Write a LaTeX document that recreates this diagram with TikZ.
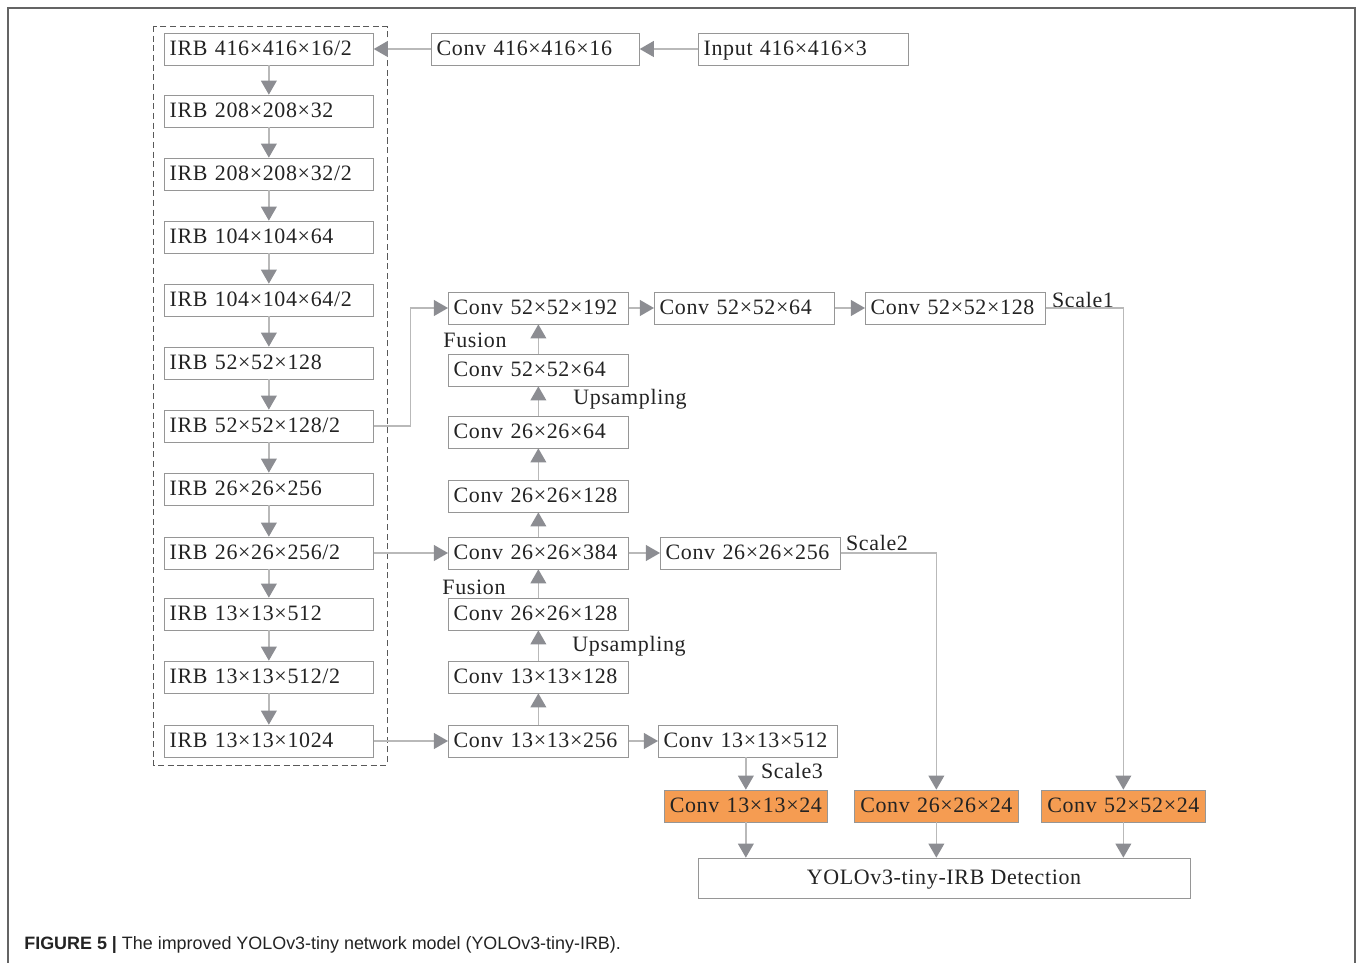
\documentclass[tikz,border=0pt]{standalone}
\usepackage{fontspec}
\setmainfont[LetterSpace=3]{Liberation Serif}
\newfontfamily\capfont{Liberation Sans}
\usetikzlibrary{arrows.meta}

\definecolor{boxgray}{RGB}{150,150,150}
\definecolor{linegray}{RGB}{185,185,185}
\definecolor{tipgray}{RGB}{140,141,146}
\definecolor{framegray}{RGB}{100,100,100}
\definecolor{convorange}{RGB}{245,156,82}
\definecolor{txtgray}{RGB}{35,35,35}

\tikzset{
  blk/.style={draw=boxgray, fill=white, text=txtgray, font=\fontsize{12.5}{14}\selectfont,
    minimum height=0.64cm, inner xsep=3pt, inner ysep=0pt, text height=0.72em, text depth=0em,
    align=left, anchor=west},
  outblk/.style={blk, fill=convorange, align=center},
  con/.style={draw=linegray, line width=0.8pt, -{Triangle[width=9pt,length=8pt,color=tipgray]}},
  lbl/.style={text=txtgray, font=\fontsize{12.5}{14}\selectfont, inner sep=0pt}
}

\begin{document}
\begin{tikzpicture}[x=0.02cm, y=-0.02cm]
\useasboundingbox (0,0) rectangle (1357,963);

% frame
\draw[draw=framegray, line width=1.2pt] (8,963) -- (8,8) -- (1355,8) -- (1355,963);

% backbone
\draw[dash pattern=on 3.5pt off 2pt, draw=black!65, line width=0.5pt] (153,26) rectangle (387,765);
\foreach \i/\y/\t in {1/49/{IRB 416×416×16/2}, 2/111/{IRB 208×208×32},
    3/174/{IRB 208×208×32/2}, 4/237/{IRB 104×104×64}, 5/300/{IRB 104×104×64/2},
    6/363/{IRB 52×52×128}, 7/426/{IRB 52×52×128/2}, 8/489/{IRB 26×26×256},
    9/553/{IRB 26×26×256/2}, 10/614/{IRB 13×13×512}, 11/677/{IRB 13×13×512/2},
    12/741/{IRB 13×13×1024}}
  \node[blk, text width=3.97cm] (irb\i) at (164,\y) {\t};
\foreach \i [evaluate=\i as \j using int(\i+1)] in {1,...,11}
  \draw[con] (irb\i) -- (irb\j);

\node[blk, text width=3.95cm] (c416) at (431,49) {Conv 416×416×16};
\node[blk, text width=3.99cm] (inp) at (698,49) {Input 416×416×3};
\draw[con] (inp) -- (c416);
\draw[con] (c416) -- (irb1);

% neck
\node[blk, text width=3.39cm] (m192) at (448,308) {Conv 52×52×192};
\node[blk, text width=3.39cm] (m5264) at (448,370) {Conv 52×52×64};
\node[blk, text width=3.39cm] (m2664) at (448,432) {Conv 26×26×64};
\node[blk, text width=3.39cm] (m26a) at (448,496) {Conv 26×26×128};
\node[blk, text width=3.39cm] (m384) at (448,553) {Conv 26×26×384};
\node[blk, text width=3.39cm] (m26b) at (448,614) {Conv 26×26×128};
\node[blk, text width=3.39cm] (m13) at (448,677) {Conv 13×13×128};
\node[blk, text width=3.39cm] (m256) at (448,741) {Conv 13×13×256};

\node[blk, text width=3.39cm] (r5264) at (654,308) {Conv 52×52×64};
\node[blk, text width=3.39cm] (r52128) at (865,308) {Conv 52×52×128};
\node[blk, text width=3.39cm] (r26256) at (660,553) {Conv 26×26×256};
\node[blk, text width=3.37cm] (r13512) at (658,741) {Conv 13×13×512};

\node[lbl] (fus1) at (475,340) {Fusion};
\node[lbl] (ups1) at (630,399) {Upsampling};
\node[lbl] (fus2) at (474,587) {Fusion};
\node[lbl] (ups2) at (629,646) {Upsampling};
\node[lbl] (sc1) at (1083,300) {Scale1};
\node[lbl] (sc2) at (877,543) {Scale2};
\node[lbl] (sc3) at (792,771) {Scale3};

\draw[con] (irb7.east) -- ++(37,0) |- (m192.west);
\draw[con] (irb9) -- (m384);
\draw[con] (irb12) -- (m256);
\draw[con] (m256) -- (m13);
\draw[con] (m13) -- (m26b);
\draw[con] (m26b) -- (m384);
\draw[con] (m384) -- (m26a);
\draw[con] (m26a) -- (m2664);
\draw[con] (m2664) -- (m5264);
\draw[con] (m5264) -- (m192);
\draw[con] (m192) -- (r5264);
\draw[con] (r5264) -- (r52128);
\draw[con] (m384) -- (r26256);
\draw[con] (m256) -- (r13512);

% heads
\node[outblk, text width=3.05cm] (o13) at (664,806) {Conv 13×13×24};
\node[outblk, text width=3.07cm] (o26) at (854,806) {Conv 26×26×24};
\node[outblk, text width=3.07cm] (o52) at (1041,806) {Conv 52×52×24};
\node[draw=boxgray, text=txtgray, font=\fontsize{12.5}{14}\selectfont, minimum width=9.84cm,
  minimum height=0.8cm, text height=0.72em, text depth=0em] (det) at (944,878) {YOLOv3-tiny-IRB Detection};

\draw[con] (r52128.east) -| (o52.north);
\draw[con] (r26256.east) -| (o26.north);
\draw[con] (r13512.south -| o13.north) -- (o13.north);
\foreach \o in {o13,o26,o52}
  \draw[con] (\o.south) -- (\o.south |- det.north);

% caption
\node[anchor=west, inner sep=0pt, text=txtgray, font=\capfont\fontsize{10.2}{12}\selectfont] (cap)
  at (24,945) {\textbf{FIGURE 5 |} The improved YOLOv3-tiny network model (YOLOv3-tiny-IRB).};
\end{tikzpicture}
\end{document}
